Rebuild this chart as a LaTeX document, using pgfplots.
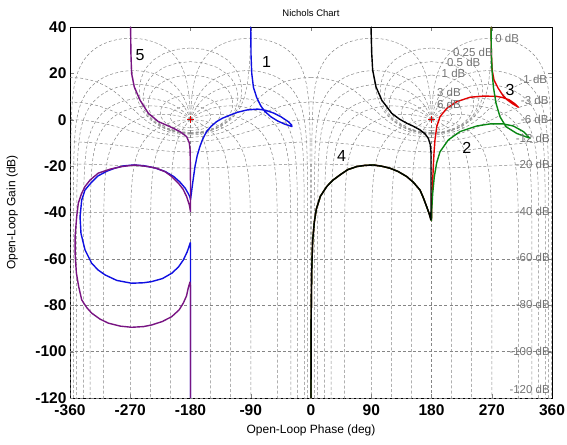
\documentclass[border=0pt]{standalone}
\usepackage{fontspec}
\setmainfont{Liberation Sans}
\usepackage{pgfplots}
\pgfplotsset{compat=1.18}
\usepackage{pgfplotstable}
\usetikzlibrary{calc}

\definecolor{cblue}{RGB}{15,15,225}
\definecolor{cpurple}{RGB}{120,20,130}
\definecolor{cred}{RGB}{225,0,0}
\definecolor{cgreen}{RGB}{10,135,20}

\tikzset{
  ngrid/.style={black!48, line width=0.5pt, dash pattern=on 3pt off 2.2pt},
  curve/.style={line width=1.4pt, line join=round},
  gl/.style={font=\fontsize{11.5}{13}\selectfont, text=black!55, inner sep=0pt},
  cl/.style={font=\fontsize{16}{18}\selectfont, inner sep=0pt},
}

% 20*log10(sin t): base shape of the constant closed-loop phase lines
\pgfplotstableread{
t S
1 -35.163
1.5 -31.642
2 -29.144
3 -25.624
4 -23.128
5 -21.194
6 -19.615
8 -17.129
10 -15.207
12 -13.642
15 -11.740
20 -9.319
25 -7.481
30 -6.021
35 -4.828
40 -3.839
45 -3.010
50 -2.315
60 -1.249
70 -0.540
80 -0.133
90 0
100 -0.133
110 -0.540
120 -1.249
130 -2.315
135 -3.010
140 -3.839
145 -4.828
150 -6.021
155 -7.481
160 -9.319
165 -11.740
168 -13.642
170 -15.207
172 -17.129
174 -19.615
175 -21.194
176 -23.128
177 -25.624
178 -29.144
178.5 -31.642
179 -35.163
179.5 -41.184
179.8 -49.142
179.9 -55.162
179.95 -61.18
179.99 -75.16
179.999 -95.16
179.9999 -115.16
179.99999 -135.16
179.999999 -155.16
}\Stab

% closed-loop gain lines, d = distance from the -180/180 point
\pgfplotstableread{
d g
0 -3.529
10 -3.257
18 -2.579
23 -1.829
27 -0.854
29 -0.015
29.8 0.640
30.08 1.256
29.8 1.867
29 2.527
27 3.367
23 4.341
18 5.091
10 5.770
0 6.041
}\Msix
\pgfplotstableread{
d g
0 -4.650
15 -4.217
25 -3.372
32 -2.395
37 -1.375
41 -0.179
43.5 1.005
44.6 1.912
45.07 3.021
44.6 4.129
43.5 5.037
41 6.220
37 7.416
32 8.436
25 9.413
15 10.26
0 10.69
}\Mthree
\pgfplotstableread{
d g
0 -5.535
20 -4.924
35 -3.529
45 -1.936
52 -0.274
57 1.450
60 2.968
62 4.571
62.7 5.562
63.03 6.864
62.7 8.175
62 9.166
60 10.77
57 12.29
52 14.01
45 15.67
35 17.27
20 18.66
0 19.27
}\Mone
\pgfplotstableread{
d g
0 -5.774
20 -5.199
40 -3.272
55 -0.365
62 1.899
66 3.812
69 6.045
70.4 8.026
70.75 9.638
70.4 11.25
69 13.23
66 15.46
62 17.37
55 19.64
40 22.54
20 24.47
0 25.05
}\Mhalf
\pgfplotstableread{
d g
0 -5.896
20 -5.339
40 -3.491
55 -0.797
65 2.238
70 4.597
73 6.665
75 8.780
76 10.67
76.34 12.54
76 14.38
75 16.27
73 18.38
70 20.45
65 22.81
55 25.84
40 28.54
20 30.39
0 30.94
}\Mquarter
\pgfplotstableread{
d g
0 -6.021
15 -5.720
30 -4.771
45 -3.010
60 0
70 3.298
75 5.720
80 9.186
85 15.174
88 23.123
89 29.142
89.5 35.163
89.8 43.12
}\Mzero
\pgfplotstableread{
d g
0 -6.535
15 -6.268
30 -5.439
40 -4.535
50 -3.303
57 -2.212
65 -0.701
75 1.621
85 4.387
95 7.349
105 10.115
115 12.438
122 13.775
130 15.039
140 16.272
150 17.176
165 18.005
180 18.272
}\Mmone
\pgfplotstableread{
d g
0 -7.649
30 -6.797
45 -5.711
60 -4.169
70 -2.902
80 -1.484
90 0.021
100 1.525
110 2.943
120 4.209
135 5.752
140 6.165
150 6.839
160 7.314
180 7.690
}\Mmthree
\pgfplotstableread{
d g
0 -9.529
30 -8.936
45 -8.209
60 -7.225
75 -6.041
90 -4.744
105 -3.447
120 -2.262
135 -1.279
150 -0.552
165 -0.108
180 0.041
}\Mmsix
\pgfplotstableread{
d g
0 -13.95
30 -13.652
60 -12.841
90 -11.717
120 -10.593
150 -9.781
180 -9.487
}\Mmtwelve
\pgfplotstableread{
d g
0 -20.828
30 -20.711
60 -20.393
90 -19.956
120 -19.520
150 -19.201
180 -19.085
}\Mmtwenty
\pgfplotstableread{
d g
0 -40.086
90 -40.0
180 -39.913
}\Mmforty

% four copies of a gain line: both sides of -180 and of 180
\newcommand{\mline}[1]{%
  \addplot[ngrid] table[x expr=-180+\thisrow{d}, y=g] {#1};
  \addplot[ngrid] table[x expr=-180-\thisrow{d}, y=g] {#1};
  \addplot[ngrid] table[x expr=180+\thisrow{d}, y=g] {#1};
  \addplot[ngrid] table[x expr=180-\thisrow{d}, y=g] {#1};
}
% phase line: #1 = closed-loop phase offset, #2 = S at that offset
\newcommand{\nline}[2]{%
  \addplot[ngrid, restrict x to domain=-180:0] table[x expr=-180+\thisrow{t}-#1, y expr=\thisrow{S}-(#2)] {\Stab};
  \addplot[ngrid, restrict x to domain=-360:-180] table[x expr=-180-\thisrow{t}+#1, y expr=\thisrow{S}-(#2)] {\Stab};
  \addplot[ngrid, restrict x to domain=180:360] table[x expr=180+\thisrow{t}-#1, y expr=\thisrow{S}-(#2)] {\Stab};
  \addplot[ngrid, restrict x to domain=0:180] table[x expr=180-\thisrow{t}+#1, y expr=\thisrow{S}-(#2)] {\Stab};
}

\begin{document}
\begin{tikzpicture}
\begin{axis}[
  scale only axis, width=482pt, height=371pt,
  xmin=-360, xmax=360, ymin=-120, ymax=40,
  xtick={-360,-270,...,360}, ytick={-120,-100,...,40},
  tick align=inside, major tick length=4pt,
  /pgf/number format/assume math mode=true,
  tick label style={font=\bfseries\fontsize{15.5}{17}\selectfont},
  xticklabel style={yshift=-3.5pt},
  xlabel={Open-Loop Phase (deg)}, ylabel={Open-Loop Gain (dB)},
  label style={font=\fontsize{12}{14}\selectfont},
  xlabel style={at={(axis description cs:0.5,-0.088)}, anchor=center},
  ylabel style={at={(axis description cs:-0.12,0.5)}, anchor=center},
  title={Nichols Chart},
  title style={font=\fontsize{9.5}{11}\selectfont, at={(axis description cs:0.5,1.021)}, anchor=center},
  axis line style={line width=0.6pt},
]
% constant closed-loop phase lines
\nline{1}{-35.163}
\nline{5}{-21.194}
\nline{10}{-15.207}
\nline{20}{-9.319}
\nline{30}{-6.021}
\nline{50}{-2.315}
\nline{90}{0}
\nline{120}{-1.249}
\nline{150}{-6.021}
\addplot[ngrid] coordinates {(-180,0) (-180,-120)};
\addplot[ngrid] coordinates {(180,0) (180,-120)};
% constant closed-loop gain lines
\mline{\Msix}
\mline{\Mthree}
\mline{\Mone}
\mline{\Mhalf}
\mline{\Mquarter}
\mline{\Mzero}
\mline{\Mmone}
\mline{\Mmthree}
\mline{\Mmsix}
\mline{\Mmtwelve}
\mline{\Mmtwenty}
\mline{\Mmforty}
\addplot[ngrid] coordinates {(-360,-60) (360,-60)};
\addplot[ngrid] coordinates {(-360,-80) (360,-80)};
\addplot[ngrid] coordinates {(-360,-100) (360,-100)};
\addplot[ngrid] coordinates {(-360,-120) (360,-120)};
\addplot[only marks, mark=+, mark size=3.5pt, cred, line width=0.6pt] coordinates {(-180,0) (180,0)};

% curve 1
\addplot[curve, cblue] coordinates {
(-90,40) (-89.6,28) (-88.5,20) (-86,14) (-81,9.5) (-75,6) (-69,3.6) (-60,1.3)
(-50,-0.5) (-40,-1.8) (-32,-2.6) (-28.5,-2.9) (-29,-2.2) (-34,-0.8) (-45,1.3)
(-56,2.9) (-68,4.1) (-80,4.6) (-96,4.2) (-110,3.2) (-121,2.0) (-132,0.7)
(-141,-0.8) (-149,-2.8) (-156,-5.1) (-162,-8.5) (-166,-11.6) (-170,-15.5)
(-173.3,-20.2) (-176.8,-27.4) (-179.7,-33.9) (-180,-34.5) (-181,-33.2)
(-184,-31.5) (-188,-29.5) (-196,-26.8) (-205,-24.5) (-218,-22.3) (-233,-20.8)
(-250,-19.8) (-265,-19.5) (-280,-19.9) (-293,-20.9) (-305,-22.2) (-318,-24.2)
(-328,-27) (-337.6,-30.3) (-342.5,-34.6) (-345,-41.8) (-343.6,-49)
(-337.6,-56.1) (-327.6,-61.9) (-318,-64.8) (-307.7,-66.9) (-290,-69.3)
(-268,-70.5) (-250,-70.3) (-238,-69.8) (-222,-68.5) (-208,-66.2) (-198,-63.5)
(-190.8,-60.5) (-185,-57) (-182,-54.5) (-180.3,-53) (-180,-55) (-180,-120)};
% curve 5
\addplot[curve, cpurple] coordinates {
(-269.5,40) (-269,28.6) (-268,20) (-264,14.2) (-255.5,8.5) (-243,2.8)
(-228,-0.8) (-210.6,-3.0) (-195.7,-5.1) (-185.7,-7.3) (-181.8,-10)
(-180.6,-13) (-180.2,-20) (-180,-30) (-180,-39.6) (-181.5,-37) (-185.7,-33.2)
(-191,-30) (-198,-27.4) (-208,-24.5) (-218,-22.4) (-230,-21) (-243,-20.2)
(-263,-19.5) (-282.8,-20.2) (-300,-21.3) (-317.7,-23) (-330,-26)
(-337.6,-28.8) (-343,-32) (-347.6,-36) (-350,-41.8) (-352.3,-50)
(-352.3,-58) (-350.5,-66) (-347,-72) (-342.5,-77.7) (-335,-81) (-327.6,-83.4)
(-315,-86) (-302.8,-87.7) (-285,-89) (-268,-89.5) (-250,-89.2) (-238,-88.5)
(-222,-87) (-208,-84.9) (-197,-82) (-190.8,-79.1) (-186,-76) (-183.3,-72.5)
(-180.8,-70) (-180,-72) (-180,-120)};
% curve 3
\addplot[curve, cred] coordinates {
(269,40) (269.4,28.6) (270.6,21.4) (273.4,17.1) (279.8,13.5) (286,10.8)
(293,8.6) (300,7.1) (309.7,5.4) (304,7.0) (296,8.6) (286,9.6) (277,10.1)
(257.4,10.2) (237.5,9.7) (217.7,7.8) (202.7,4.9) (192.7,1.3) (187.8,-3.0)
(185.2,-8.7) (183.7,-14.5) (182.7,-20.2) (181.5,-28) (180.5,-36) (180,-43.5)
(176.5,-40.5) (172.8,-37.5) (168,-33.8) (162.8,-30.3) (153,-27) (143,-24.5)
(130,-22.3) (118,-20.9) (105,-20) (93.1,-19.5) (80,-19.7) (68.3,-20.2)
(55,-21.5) (43.3,-23.8) (33,-26) (23.5,-28.8) (14,-33) (8,-38.5) (5,-44)
(2.5,-52) (1,-66) (0.3,-85) (0,-120)};
% curve 2
\addplot[curve, cgreen] coordinates {
(268.9,40) (269.4,28.6) (270.4,21.4) (272.4,14.2) (276.4,7.1) (282.3,1.3)
(291.3,-3.0) (307.3,-5.9) (327.2,-8.0) (317.2,-5.1) (302.2,-2.7) (287.3,-1.8)
(267.4,-1.8) (247.5,-2.7) (222.6,-5.1) (205.1,-8.7) (192.7,-13.8)
(187.8,-18.5) (184.2,-24.5) (181.8,-31.7) (180.3,-38.9) (180,-43.5)
(176.5,-40.5) (172.8,-37.5) (168,-33.8) (162.8,-30.3) (153,-27) (143,-24.5)
(130,-22.3) (118,-20.9) (105,-20) (93.1,-19.5) (80,-19.7) (68.3,-20.2)
(55,-21.5) (43.3,-23.8) (33,-26) (23.5,-28.8) (14,-33) (8,-38.5) (5,-44)
(2.5,-52) (1,-66) (0.3,-85) (0,-120)};
% curve 4
\addplot[curve, black] coordinates {
(89.6,40) (90.7,28.6) (92.1,21.4) (97.1,14.2) (105.6,8.5) (120.5,2.8)
(132,0.3) (143,-1.5) (153,-2.8) (162.8,-4.4) (170,-6) (175.2,-8) (178,-10.5)
(179.2,-14) (179.3,-20) (179.3,-37.5) (179,-43.2) (176.5,-40.5) (172.8,-37.5)
(168,-33.8) (162.8,-30.3) (153,-27) (143,-24.5) (130,-22.3) (118,-20.9)
(105,-20) (93.1,-19.5) (80,-19.7) (68.3,-20.2) (55,-21.5) (43.3,-23.8)
(33,-26) (23.5,-28.8) (14,-33) (8,-38.5) (5,-44) (2.5,-52) (1,-66) (0.3,-85)
(0,-120)};

% grid labels
\node[gl, anchor=west] at (axis cs:275,35) {0 dB};
\node[gl, anchor=west] at (axis cs:212,29) {0.25 dB};
\node[gl, anchor=west] at (axis cs:203,24.6) {0.5 dB};
\node[gl, anchor=west] at (axis cs:195,19.8) {1 dB};
\node[gl, anchor=west] at (axis cs:188,11.7) {3 dB};
\node[gl, anchor=west] at (axis cs:188,6.8) {6 dB};
\node[gl, anchor=east] at (axis cs:353,17.4) {-1 dB};
\node[gl, anchor=east] at (axis cs:355,8.5) {-3 dB};
\node[gl, anchor=east] at (axis cs:355,0.3) {-6 dB};
\node[gl, anchor=east] at (axis cs:357,-8) {-12 dB};
\node[gl, anchor=east] at (axis cs:357,-19.1) {-20 dB};
\node[gl, anchor=east] at (axis cs:357,-39.6) {-40 dB};
\node[gl, anchor=east] at (axis cs:357,-59.3) {-60 dB};
\node[gl, anchor=east] at (axis cs:357,-79.5) {-80 dB};
\node[gl, anchor=east] at (axis cs:357,-100) {-100 dB};
\node[gl, anchor=east] at (axis cs:357,-116.2) {-120 dB};
% curve numbers
\node[cl] at (axis cs:-255.5,27.9) {5};
\node[cl] at (axis cs:-66.2,25) {1};
\node[cl] at (axis cs:45.8,-15.6) {4};
\node[cl] at (axis cs:232.6,-12) {2};
\node[cl] at (axis cs:297.3,12.8) {3};
\end{axis}
\pgfresetboundingbox
\path ($(current axis.south west)+(-70pt,-46pt)$) rectangle ($(current axis.north east)+(15pt,27pt)$);
\end{tikzpicture}
\end{document}
